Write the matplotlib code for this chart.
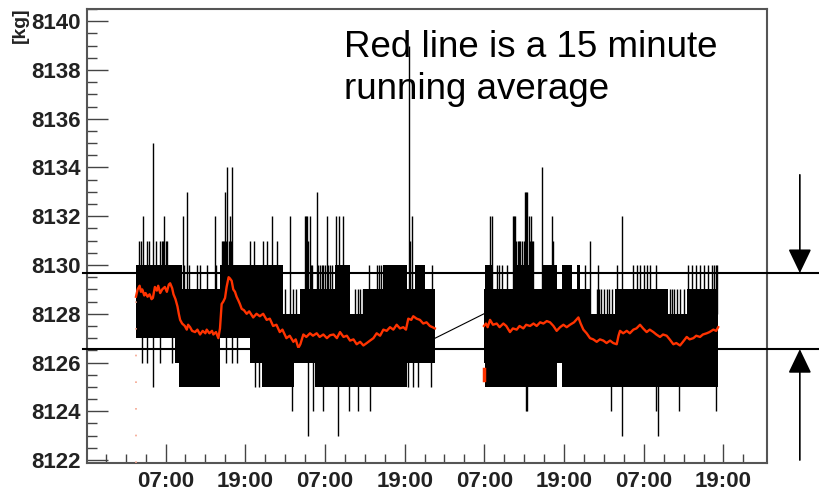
import numpy as np
import matplotlib
matplotlib.use('Agg')
import matplotlib.pyplot as plt

plt.rcParams['font.family'] = ['Liberation Sans', 'DejaVu Sans']

# time axis in hours, 0 = midnight before the first 07:00 label
x_ticks = [7, 19, 31, 43, 55, 67, 79, 91]
x_labels = ['07:00', '19:00', '07:00', '19:00', '07:00', '19:00', '07:00', '19:00']

# dense black band (raw 1 kg readings flip fast between these levels)
band1_t = [2.5, 8.4, 9.0, 9.5, 15.2, 19.7, 21.5, 24.7, 26.4, 27.3, 29.5, 32.5, 34.8, 36.8, 39.8,
           43.3, 44.56, 46.07, 47.6]
band1_top = [8130, 8130, 8130, 8129, 8130, 8130, 8130, 8128, 8128, 8129, 8129, 8130, 8128, 8129,
             8130, 8129, 8130, 8129]
band1_bot = [8127, 8126, 8125, 8125, 8127, 8126, 8125, 8125, 8126, 8126, 8125, 8125, 8125, 8125,
             8125, 8126, 8126, 8126]

band2_t = [54.95, 55.1, 56.36, 59.37, 62.38, 63.89, 65.89, 66.65, 68.15, 68.9, 69.41, 70.91, 74.68,
           82.71, 85.47, 90.23]
band2_top = [8129, 8130, 8129, 8130, 8129, 8130, 8129, 8130, 8129, 8130, 8129, 8128, 8129, 8128, 8129]
band2_bot = [8126, 8125, 8125, 8125, 8125, 8125, 8126, 8125, 8125, 8125, 8125, 8125, 8125, 8125, 8125]

# single readings sticking out of the band
spike_t = [3.06, 3.31, 3.56, 4.17, 4.5, 5.07, 5.6, 6.17, 6.4, 6.6, 6.77, 7.0, 7.2,
           9.68, 9.8, 10.24, 10.5, 11.69, 12.19, 13.3, 14.45, 14.6,
           15.45, 15.6, 15.8, 15.96, 16.1, 16.26, 16.5, 16.7, 16.85, 17.06,
           19.72, 20.3, 21.73, 22.23, 23.08, 23.74, 25.0, 25.74, 26.2, 26.6,
           28.0, 28.15, 28.3, 28.5, 28.7, 28.9, 29.1, 29.76, 30.0, 30.3, 30.5, 30.76, 31.0,
           31.27, 31.5, 31.8, 32.1,
           32.7, 33.17, 33.67, 35.5, 36.0, 36.3, 36.79, 37.69, 38.79, 39.2, 39.5,
           43.66, 43.8, 44.06, 47.07,
           3.44, 4.24, 5.07, 6.17, 7.93, 16.1, 16.96, 17.71, 20.4, 21.0,
           26.0, 28.5, 29.26, 30.76, 32.9, 34.63, 35.93, 37.79, 43.5, 44.3, 45.0, 46.9,
           55.86, 56.16, 56.86, 57.2, 57.61, 58.37, 59.37, 59.5, 59.62, 59.8, 60.0,
           60.2, 60.37, 60.6, 60.9, 61.13, 61.3, 61.48, 61.78, 61.9, 62.0, 62.2, 62.38,
           63.74, 65.14, 65.4, 70.2, 70.91, 71.9, 72.17, 72.3, 72.6, 73.0, 73.4, 73.7, 74.2,
           74.93, 75.68, 77.44, 78.0, 78.44, 79.0, 79.44, 80.0, 80.85,
           83.0, 83.3, 83.6, 84.0, 84.5, 85.0,
           85.6, 86.2, 86.8, 87.47, 88.0, 88.73, 89.3, 89.6, 89.9, 90.1,
           61.3, 61.48, 74.02, 75.68, 80.85, 81.2, 84.31, 89.88]
spike_v = [8131, 8131, 8132, 8131, 8131, 8135, 8131, 8131, 8131, 8131, 8132, 8131, 8131,
           8132, 8130, 8133, 8130, 8130, 8130, 8130, 8132, 8130,
           8131, 8131, 8131, 8133, 8131, 8134, 8131, 8132, 8131, 8134,
           8131, 8131, 8131, 8131, 8132, 8131, 8129, 8132, 8129, 8129,
           8132, 8132, 8132, 8131, 8132, 8130, 8130, 8133, 8130, 8130, 8130, 8130, 8130,
           8132, 8130, 8130, 8130,
           8132, 8132, 8132, 8129, 8129, 8129, 8129, 8130, 8130, 8130, 8130,
           8139, 8131, 8132, 8130,
           8126, 8126, 8125, 8126, 8126, 8126, 8126, 8126, 8125, 8125,
           8124, 8123, 8124, 8124, 8123, 8124, 8124, 8124, 8125, 8125, 8125, 8125,
           8132, 8132, 8130, 8130, 8130, 8130, 8132, 8132, 8132, 8131, 8131,
           8131, 8131, 8131, 8131, 8133, 8133, 8133, 8132, 8131, 8132, 8131, 8131,
           8134, 8132, 8131, 8130, 8131, 8129, 8130, 8129, 8129, 8129, 8129, 8129, 8129,
           8130, 8132, 8130, 8130, 8130, 8130, 8130, 8130, 8130,
           8129, 8129, 8129, 8129, 8129, 8129,
           8130, 8130, 8130, 8130, 8130, 8130, 8130, 8130, 8130, 8130,
           8124, 8124, 8124, 8123, 8124, 8123, 8124, 8124]

# 15 minute running average
red1_t = [2.55, 2.8, 3.1, 3.3, 3.5, 3.8, 4.0, 4.3, 4.6, 4.9, 5.1, 5.4, 5.7, 5.9, 6.2, 6.5, 6.9,
          7.2, 7.5, 7.7, 8.0, 8.2, 8.5, 8.8, 9.0, 9.2, 9.5, 9.9, 10.2, 10.4, 10.7, 11.0, 11.45,
          11.8, 12.2, 12.6, 13.0, 13.2, 13.6, 14.0, 14.2, 14.6, 14.95, 15.2, 15.45, 15.7, 15.96,
          16.2, 16.5, 16.7, 16.96, 17.2, 17.46, 17.7, 17.96, 18.2, 18.47, 18.8, 19.22, 19.6,
          20.2, 20.7, 21.2, 21.7, 22.23, 22.7, 23.2, 23.7, 24.2, 24.6, 25.2, 25.7, 26.25, 26.6,
          27.0, 27.3, 27.75, 28.2, 28.75, 29.2, 29.76, 30.2, 30.76, 31.3, 31.77, 32.3, 32.8,
          33.27, 33.8, 34.3, 34.78, 35.3, 35.78, 36.3, 36.79, 37.3, 37.79, 38.3, 38.79, 39.3,
          39.8, 40.3, 40.8, 41.3, 41.8, 42.3, 42.8, 43.2, 43.55, 44.0, 44.3, 44.8, 45.3, 45.8,
          46.3, 46.8, 47.2, 47.55]
red1_v = [8128.7, 8129.0, 8129.15, 8128.9, 8129.0, 8128.75, 8128.85, 8128.7, 8128.8, 8128.6,
          8128.65, 8129.1, 8128.95, 8129.15, 8128.85, 8129.0, 8129.1, 8128.9, 8129.2, 8129.25,
          8129.05, 8128.8, 8128.6, 8128.3, 8128.0, 8127.75, 8127.6, 8127.5, 8127.35, 8127.55,
          8127.45, 8127.3, 8127.25, 8127.35, 8127.15, 8127.3, 8127.2, 8127.35, 8127.2, 8127.3,
          8127.15, 8127.25, 8127.0, 8127.4, 8128.4, 8128.5, 8128.65, 8129.1, 8129.5, 8129.45,
          8129.35, 8129.0, 8128.9, 8128.7, 8128.55, 8128.4, 8128.2, 8128.15, 8128.0, 8128.1,
          8127.85, 8128.0, 8127.9, 8128.0, 8127.75, 8127.8, 8127.5, 8127.55, 8127.25, 8127.35,
          8127.0, 8127.1, 8126.85, 8126.95, 8126.6, 8126.75, 8127.15, 8127.05, 8127.2, 8127.1,
          8127.2, 8127.05, 8127.15, 8127.0, 8127.12, 8127.15, 8127.0, 8127.25, 8127.05, 8127.1,
          8126.9, 8126.95, 8126.75, 8126.85, 8126.7, 8126.8, 8126.9, 8127.0, 8127.2, 8127.1,
          8127.35, 8127.3, 8127.45, 8127.35, 8127.55, 8127.4, 8127.45, 8127.35, 8127.8, 8127.75,
          8127.9, 8127.8, 8127.75, 8127.6, 8127.65, 8127.5, 8127.45, 8127.4]

red2_t = [54.95, 55.25, 55.5, 55.86, 56.3, 56.86, 57.3, 57.86, 58.3, 58.86, 59.3, 59.87, 60.3,
          60.87, 61.3, 61.88, 62.4, 62.88, 63.4, 63.89, 64.4, 64.89, 65.4, 65.89, 66.4, 66.9,
          67.4, 67.9, 68.5, 69.16, 69.5, 69.91, 70.4, 70.91, 71.4, 71.92, 72.4, 72.92, 73.4,
          73.93, 74.4, 74.93, 75.2, 75.43, 75.9, 76.44, 76.9, 77.44, 77.9, 78.44, 78.9, 79.44,
          79.9, 80.45, 80.9, 81.45, 81.9, 82.45, 82.9, 83.46, 83.9, 84.46, 84.9, 85.47, 85.9,
          86.47, 86.9, 87.47, 87.9, 88.48, 88.9, 89.48, 89.9, 90.2]
red2_v = [8127.5, 8127.6, 8127.45, 8127.75, 8127.55, 8127.6, 8127.45, 8127.6, 8127.5, 8127.25,
          8127.4, 8127.35, 8127.5, 8127.4, 8127.55, 8127.5, 8127.6, 8127.5, 8127.65, 8127.6,
          8127.7, 8127.65, 8127.5, 8127.3, 8127.45, 8127.55, 8127.45, 8127.55, 8127.65, 8127.85,
          8127.6, 8127.35, 8127.2, 8127.0, 8126.95, 8126.85, 8126.95, 8126.9, 8126.8, 8126.9,
          8126.8, 8126.75, 8127.1, 8127.3, 8127.2, 8127.3, 8127.2, 8127.35, 8127.4, 8127.55,
          8127.4, 8127.25, 8127.35, 8127.25, 8127.15, 8127.05, 8127.15, 8127.1, 8126.95, 8126.75,
          8126.8, 8126.7, 8126.85, 8127.05, 8126.95, 8127.0, 8127.1, 8127.05, 8127.15, 8127.2,
          8127.25, 8127.35, 8127.3, 8127.45]

# gap between the two runs, and the tolerance band lines
gap_t = [47.6, 54.95]
gap_v = [8127, 8128]
limit_hi = 8129.67
limit_lo = 8126.55

fig = plt.figure(figsize=(8.2, 4.98), dpi=100)
ax = fig.add_axes([0.1057, 0.0703, 0.8297, 0.9116])

for t, top, bot in [(band1_t, band1_top, band1_bot), (band2_t, band2_top, band2_bot)]:
    ax.fill_between(t, np.append(bot, bot[-1]), np.append(top, top[-1]),
                    step='post', color='black', linewidth=0, zorder=2)
ax.vlines(spike_t, 8128, spike_v, color='black', linewidth=1.0, zorder=2)
ax.plot(gap_t, gap_v, color='black', linewidth=0.8, zorder=2)

# running average (start-up transients included)
ax.plot([2.55, 2.55], [8121.9, 8128.6], color='#f5a58f', linewidth=1.2,
        linestyle=(0, (1, 15)), zorder=3)
ax.plot([55.0, 55.0], [8125.3, 8125.75], color='#ff3300', linewidth=2.5, zorder=3)
ax.plot(red1_t, red1_v, color='#ff3300', linewidth=1.7, zorder=3)
ax.plot(red2_t, red2_v, color='#ff3300', linewidth=1.7, zorder=3)

for lvl in [limit_hi, limit_lo]:
    ax.axhline(lvl, xmin=-0.006, xmax=1.08, color='black', linewidth=1.5,
               clip_on=False, zorder=5)

ax.annotate('', xy=(102.5, limit_hi), xytext=(102.5, 8133.7), annotation_clip=False,
            arrowprops=dict(arrowstyle='-|>,head_length=0.75,head_width=0.36',
                            mutation_scale=20, color='black', lw=1.2, shrinkA=0, shrinkB=0))
ax.annotate('', xy=(102.5, limit_lo), xytext=(102.5, 8122.0), annotation_clip=False,
            arrowprops=dict(arrowstyle='-|>,head_length=0.75,head_width=0.36',
                            mutation_scale=20, color='black', lw=1.2, shrinkA=0, shrinkB=0))

ax.set_xlim(-4.87, 97.56)
ax.set_ylim(8121.88, 8140.49)
ax.set_xticks(x_ticks)
ax.set_xticklabels(x_labels)
ax.set_xticks(np.arange(-2, 97, 3), minor=True)
ax.set_yticks(np.arange(8122, 8141, 2))
ax.set_yticks(np.arange(8122, 8140.6, 0.5), minor=True)

ax.tick_params(axis='x', which='major', direction='in', length=13.5, width=1.0, pad=6,
               color='#444444', labelsize=16)
ax.tick_params(axis='x', which='minor', direction='in', length=6.5, width=1.0, color='#444444')
ax.tick_params(axis='y', which='major', direction='in', length=15, width=1.0, pad=4,
               color='#444444', labelsize=16)
ax.tick_params(axis='y', which='minor', direction='in', length=7.5, width=1.0, color='#444444')
for lab in ax.get_xticklabels() + ax.get_yticklabels():
    lab.set_fontweight('bold')
    lab.set_color('#222222')
for sp in ax.spines.values():
    sp.set_color('#555555')
    sp.set_linewidth(1.5)

fig.text(0.025, 0.985, '[kg]', rotation=90, ha='center', va='top',
         fontsize=14, fontweight='bold', color='#222222')
fig.text(0.419, 0.94, 'Red line is a 15 minute\nrunning average', ha='left', va='top',
         fontsize=26.5, linespacing=1.25, color='black')

plt.savefig('out.png', dpi=100)
